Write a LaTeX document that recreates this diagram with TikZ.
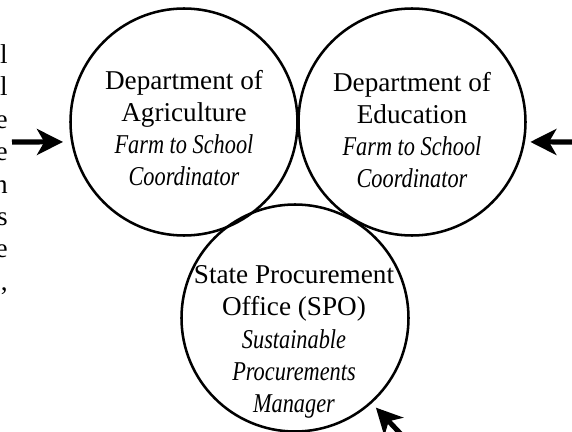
\documentclass[tikz,border=0pt]{standalone}
\usepackage{fontspec}
\setmainfont{Liberation Serif}[ItalicFeatures={FakeStretch=0.82}]
\usetikzlibrary{arrows.meta}
\begin{document}
\begin{tikzpicture}[x=0.75pt,y=-0.75pt,
  ring/.style={circle,draw,line width=1.9pt,minimum size=170.25pt,inner sep=0pt},
  lbl/.style={align=center,font=\fontsize{20.4}{24.2}\selectfont,inner sep=0pt},
  frag/.style={anchor=base east,font=\fontsize{20.4}{24.2}\selectfont,inner sep=0pt},
  arr/.style={-{Stealth[length=19.5pt,width=19.5pt,inset=5.5pt]},line width=3.8pt}]
\useasboundingbox (0,0) rectangle (572,432);
% circles
\node[ring] (agr) at (184,122) {};
\node[ring] (edu) at (412,122) {};
\node[ring] (spo) at (295,318) {};
% texts
\node[lbl] (agrT) at (184,128) {Department of\\Agriculture\\\textit{Farm to School}\\\textit{Coordinator}};
\node[lbl] (eduT) at (412,130) {Department of\\Education\\\textit{Farm to School}\\\textit{Coordinator}};
\node[lbl] (spoT) at (294,342) {State Procurement\\Office (SPO)\\\textit{Sustainable}\\\textit{Procurements}\\\textit{Manager}};
% cut-off text fragments at the left edge
\node[frag] (f1) at (8,63) {l};
\node[frag] (f2) at (8,95.5) {l};
\node[frag] (f3) at (8,128) {e};
\node[frag] (f4) at (8,160.5) {e};
\node[frag] (f5) at (8,193) {n};
\node[frag] (f6) at (8,225) {s};
\node[frag] (f7) at (8,257.5) {e};
\node[frag] (f8) at (8,290) {,};
% arrows
\coordinate (inL) at (12,142);
\coordinate (inR) at (576,142);
\coordinate (inB) at (414,448);
\draw[arr,shorten >=6pt] (inL) -- (agr.190);
\draw[arr,shorten >=4pt] (inR) -- (edu.350);
\draw[arr,shorten >=4.5pt] (inB) -- (spo.-48);
\end{tikzpicture}
\end{document}
